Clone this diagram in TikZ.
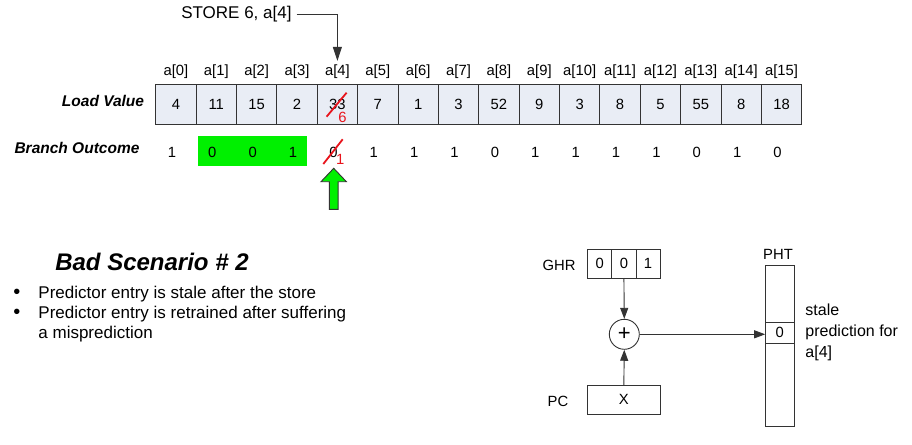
\documentclass[tikz,border=0pt]{standalone}
\usepackage{fontspec}
\setmainfont{Liberation Sans}
\usetikzlibrary{arrows.meta, positioning}
\definecolor{cellbg}{HTML}{E9EDF5}
\definecolor{edge}{HTML}{333333}
\definecolor{hot}{HTML}{00F000}
\definecolor{fixred}{HTML}{E8141C}

\begin{document}
\begin{tikzpicture}[x=1pt, y=-1pt,
    font=\fontsize{14.8}{17}\selectfont,
    line width=0.9pt,
    cell/.style={draw=edge, fill=cellbg, minimum width=40.375pt, minimum height=40.5pt, inner sep=0pt, outer sep=0pt},
    idx/.style={inner sep=0pt},
    ttl/.style={font=\fontsize{15.5}{18}\selectfont\bfseries\itshape, inner sep=0pt},
    reg/.style={draw=edge, minimum height=29pt, inner sep=0pt, outer sep=0pt},
    fixed/.style={text=fixred, inner sep=0pt},
    slash/.style={draw=fixred, line width=1.8pt},
    bul/.style={font=\fontsize{17}{20}\selectfont, inner sep=0pt, anchor=west},
    dot/.style={font=\fontsize{20}{20}\selectfont, inner sep=0pt},
    ar/.style={-{Triangle[length=11pt, width=8pt]}, edge}
  ]
    \useasboundingbox (0,0) rectangle (912,444);

    % load values and indices
    \foreach \v [count=\i from 0] in {4,11,15,2,33,7,1,3,52,9,3,8,5,55,8,18} {
      \node[cell] (c\i) at ({175.9+40.375*\i},104.2) {\v};
      \node[idx] (a\i) at ({175.9+40.375*\i},71.7) {a[\i]};
    }
    \node[ttl] (lv) at (103,101) {Load Value};
    \node[ttl] (bo) at (77,148) {Branch Outcome};

    % history window
    \node[fill=hot, minimum width=108.7pt, minimum height=29.7pt, inner sep=0pt] (win) at (252.65,150.85) {};
    \foreach \b [count=\i from 0] in {1,0,0,1,0,1,1,1,0,1,1,1,1,0,1,0}
      \node[idx] (o\i) at ({171.9+40.375*\i},152.3) {\b};

    % the store
    \node[anchor=east, inner sep=0pt, font=\fontsize{17}{20}\selectfont] (st) at (292,14) {STORE 6, a[4]};
    \draw[-{Triangle[length=14pt, width=9pt]}, edge] ([xshift=4.7pt]st.east) -| ([yshift=3.5pt]a4.north);
    \draw[slash] ([shift={(-10.8,12.5)}]c4.center) -- ([shift={(9.2,-11.5)}]c4.center);
    \node[fixed] (new) at ([shift={(5.2,13)}]c4.center) {6};
    \draw[slash] ([shift={(-10.1,11.7)}]o4.center) -- ([shift={(9.3,-13)}]o4.center);
    \node[fixed] (flip) at ([shift={(6.8,7)}]o4.center) {1};

    % green pointer
    \draw[edge, fill=hot] (329.3,209.3) -- (329.3,181.7) -- (321,181.7) -- (333.7,168.3)
      -- (346.4,181.7) -- (338.1,181.7) -- (338.1,209.3) -- cycle;

    % scenario text
    \node[font=\fontsize{24}{28}\selectfont\bfseries\itshape, inner sep=0pt] (hd) at (152,262) {Bad Scenario \# 2};
    \node[dot] (d1) at (17,294) {•};
    \node[dot] (d2) at (17,314) {•};
    \node[bul] (b1) at (38,294) {Predictor entry is stale after the store};
    \node[bul] (b2) at (38,314) {Predictor entry is retrained after suffering};
    \node[bul] (b3) at (38,334) {a misprediction};

    % predictor
    \foreach \g [count=\k from 0] in {0,0,1}
      \node[reg, minimum width=24.1pt] (g\k) at ({599.8+24.1*\k},263.5) {\g};
    \node[idx] (ghr) at (559,265) {GHR};
    \node[draw=edge, circle, minimum size=30pt, inner sep=0pt, font=\fontsize{22}{22}\selectfont] (mix) at (624.3,334.3) {+};
    \node[reg, minimum width=72.3pt, minimum height=28.3pt] (pc) at (623.8,399.8) {X};
    \node[idx] (pcl) at (558,401) {PC};
    \draw[ar] (g1.south) -- (mix.north);
    \draw[ar] (pc.north) -- (mix.south);

    \node[draw=edge, minimum width=28.3pt, minimum height=161pt, inner sep=0pt] (pht) at (779.8,346.2) {};
    \node[draw=edge, minimum width=28.3pt, minimum height=21pt, inner sep=0pt] (ent) at (779.8,332.8) {0};
    \node[idx] (phtl) at (778,254) {PHT};
    \draw[ar] (mix.east) -- (mix.east -| ent.west);
    \node[anchor=north west, align=left, inner sep=0pt, font=\fontsize{16}{21}\selectfont] (stale) at (805,303) {stale\\prediction for\\a[4]};
  \end{tikzpicture}
\end{document}
